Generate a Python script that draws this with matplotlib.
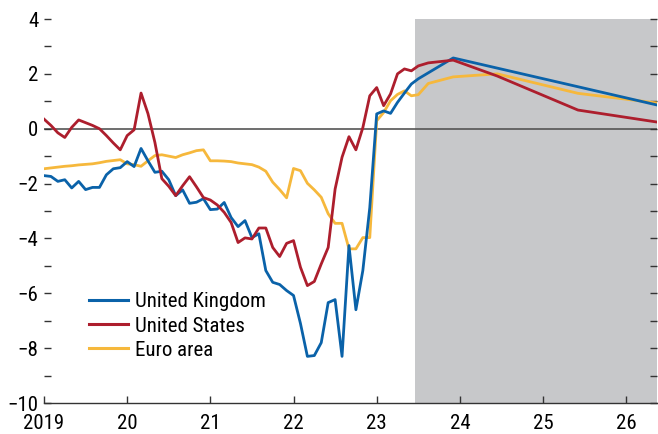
import matplotlib
matplotlib.use("Agg")
import matplotlib.pyplot as plt
from matplotlib import font_manager
import numpy as np

# ---------------- data ----------------
# monthly history, Jan 2019 .. Jul 2023
uk_hist = [-1.71, -1.74, -1.92, -1.86, -2.16, -1.92, -2.22, -2.14, -2.14, -1.68,
           -1.46, -1.42, -1.20, -1.38, -0.72, -1.17, -1.59, -1.55, -1.86, -2.44,
           -2.23, -2.72, -2.68, -2.55, -2.95, -2.93, -2.69, -3.24, -3.57, -3.35,
           -3.97, -3.83, -5.17, -5.60, -5.68, -5.90, -6.08, -7.10, -8.30, -8.27,
           -7.80, -6.34, -6.23, -8.30, -4.26, -6.60, -5.17, -2.88, 0.54, 0.65,
           0.56, 0.96, 1.30, 1.63, 1.82]
us_hist = [0.35, 0.12, -0.15, -0.32, 0.05, 0.32, 0.22, 0.12, 0.00, -0.25,
           -0.52, -0.77, -0.25, -0.04, 1.30, 0.55, -0.50, -1.82, -2.10, -2.44,
           -2.08, -1.75, -2.12, -2.51, -2.60, -2.78, -3.05, -3.42, -4.15, -3.98,
           -4.02, -3.62, -3.62, -4.33, -4.66, -4.18, -4.08, -5.05, -5.72, -5.57,
           -4.93, -4.33, -2.20, -1.04, -0.29, -0.77, 0.04, 1.20, 1.50, 0.84,
           1.27, 2.00, 2.18, 2.11, 2.29]
ea_hist = [-1.46, -1.43, -1.40, -1.37, -1.35, -1.32, -1.30, -1.28, -1.24, -1.19,
           -1.16, -1.13, -1.28, -1.31, -1.37, -1.17, -0.98, -0.95, -1.00, -1.05,
           -0.95, -0.88, -0.80, -0.77, -1.17, -1.17, -1.18, -1.20, -1.25, -1.28,
           -1.31, -1.40, -1.55, -1.95, -2.22, -2.52, -1.45, -1.53, -1.99, -2.23,
           -2.50, -3.10, -3.45, -3.45, -4.38, -4.38, -3.97, -3.97, 0.29, 0.59,
           1.02, 1.25, 1.38, 1.20, 1.24]

# projections (year, value)
uk_proj_t = [2023.92, 2024.92, 2025.92, 2026.42]
uk_proj_v = [2.58, 1.88, 1.18, 0.83]
us_proj_t = [2023.62, 2023.92, 2024.45, 2025.42, 2026.42]
us_proj_v = [2.40, 2.50, 1.92, 0.68, 0.22]
ea_proj_t = [2023.62, 2023.92, 2024.45, 2025.42, 2026.42]
ea_proj_v = [1.65, 1.89, 2.00, 1.29, 0.92]

series_names = ["United Kingdom", "United States", "Euro area"]
year_ticks = [2019, 2020, 2021, 2022, 2023, 2024, 2025, 2026]
year_labels = ["2019", "20", "21", "22", "23", "24", "25", "26"]
proj_start = 2023.46

# ---------------- font: prefer a narrow/condensed sans ----------------
fm = font_manager.fontManager
chosen = None
for want in ["Liberation Sans Narrow", "Arial Narrow", "Roboto Condensed",
             "Open Sans Condensed", "DejaVu Sans Condensed"]:
    for f in fm.ttflist:
        if f.name == want and f.weight in (400, "normal", "regular") and f.style == "normal":
            chosen = f
            break
    if chosen:
        break
if chosen is None:
    for f in fm.ttflist:
        if (("condensed" in str(f.stretch).lower() or "Narrow" in f.name or "Condensed" in f.name)
                and f.style == "normal" and f.weight in (400, "normal", "regular")
                and "Mono" not in f.name and "Serif" not in f.name):
            chosen = f
            break

if chosen is not None:
    font_manager.fontManager.addfont(chosen.fname)
    fp_name = font_manager.FontProperties(fname=chosen.fname).get_name()
    plt.rcParams["font.family"] = [fp_name, "DejaVu Sans"]
    if str(chosen.stretch).lower() not in ("normal", "500"):
        plt.rcParams["font.stretch"] = chosen.stretch
    fsize = 15
else:
    plt.rcParams["font.family"] = ["Liberation Sans", "DejaVu Sans"]
    fsize = 13.5

c_uk = "#0a62a9"
c_us = "#ad1e2d"
c_ea = "#f6b83c"

fig = plt.figure(figsize=(6.58, 4.34), dpi=100)
ax = fig.add_axes([44 / 658, 31 / 434, 613 / 658, 384 / 434])

xmin, xmax = 2019.0, 2026.37
ax.set_xlim(xmin, xmax)
ax.set_ylim(-10, 4)

ax.axvspan(proj_start, xmax + 1, color="#c7c8ca", lw=0, zorder=0)
ax.axhline(0, color="#555555", lw=1.2, zorder=1)

n = len(uk_hist)
t_hist = 2019 + np.arange(n) / 12.0

def full(hist, pt, pv):
    return np.concatenate([t_hist, pt]), np.concatenate([hist, pv])

lw = 2.0
t, v = full(uk_hist, uk_proj_t, uk_proj_v)
ax.plot(t, v, color=c_uk, lw=lw, label=series_names[0], zorder=3)
t, v = full(us_hist, us_proj_t, us_proj_v)
ax.plot(t, v, color=c_us, lw=lw, label=series_names[1], zorder=3)
t, v = full(ea_hist, ea_proj_t, ea_proj_v)
ax.plot(t, v, color=c_ea, lw=lw, label=series_names[2], zorder=2)

for s in ["top", "left", "right"]:
    ax.spines[s].set_visible(False)
ax.spines["bottom"].set_color("#333333")
ax.spines["bottom"].set_linewidth(1.0)

ax.set_xticks(year_ticks)
ax.set_xticklabels(year_labels)
ax.tick_params(axis="x", direction="in", length=5, width=1, color="#333333",
               labelsize=fsize, pad=8)

yt = np.arange(-10, 5, 2)
ax.set_yticks(yt)
ax.set_yticklabels(["\u2212" + str(abs(int(y))) if y < 0 else str(int(y)) for y in yt])
ax.set_yticks(np.arange(-9, 4, 2), minor=True)
ax.tick_params(axis="y", which="both", direction="in", length=5, width=1, color="#333333",
               labelsize=fsize, pad=4, right=True)

leg = ax.legend(loc="upper left", bbox_to_anchor=(0.06, 0.31), frameon=False,
                fontsize=fsize, handlelength=1.85, handletextpad=0.35, labelspacing=0.25,
                borderaxespad=0)
for h in leg.get_lines():
    h.set_linewidth(2.2)

fig.savefig("out.png", dpi=100)
